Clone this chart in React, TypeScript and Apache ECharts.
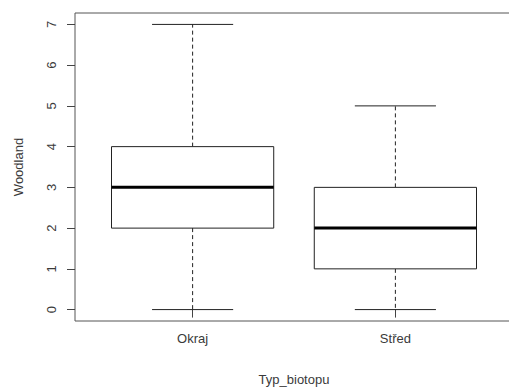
import React, { useEffect, useRef } from "react";
import * as echarts from "echarts";

const categories = ["Okraj", "Střed"];
// [min, Q1, median, Q3, max]
const okraj = [0, 2, 3, 4, 7];
const stred = [0, 1, 2, 3, 5];
const yTicks = [0, 1, 2, 3, 4, 5, 6, 7];

const boxStats = [okraj, stred];

export default function App() {
  const ref = useRef<HTMLDivElement>(null);
  useEffect(() => {
    if (!ref.current) return;
    const chart = echarts.init(ref.current, undefined, { renderer: "svg" });
    const lineColor = "#444";
    const textStyle = { color: "#3a3a3a", fontFamily: "Liberation Sans, Arial, sans-serif", fontSize: 13 };
    const data = boxStats.map((s, i) => [i + 1, ...s]);
    chart.setOption({
      animation: false,
      grid: {
        left: 75, right: -4, top: 13, bottom: 67,
        show: true, borderColor: "#555", borderWidth: 1,
        containLabel: false, outerBoundsMode: "none",
      },
      xAxis: {
        type: "value",
        min: 0.42,
        max: 2.58,
        splitLine: { show: false },
        axisLine: { show: false },
        axisTick: { show: true, length: 8, customValues: [1, 2], lineStyle: { color: lineColor } },
        axisLabel: {
          customValues: [1, 2],
          margin: 11,
          formatter: (v: number) => categories[Math.round(v) - 1] ?? "",
          ...textStyle,
        },
        name: "Typ_biotopu",
        nameLocation: "middle",
        nameGap: 52,
        nameTextStyle: { ...textStyle },
      },
      yAxis: {
        type: "value",
        min: -0.28,
        max: 7.28,
        splitLine: { show: false },
        axisLine: { show: false },
        axisTick: { show: true, length: 8, customValues: yTicks, lineStyle: { color: lineColor } },
        axisLabel: {
          customValues: yTicks,
          rotate: 90,
          margin: 17,
          ...textStyle,
        },
        name: "Woodland",
        nameLocation: "middle",
        nameGap: 50,
        nameRotate: 90,
        nameTextStyle: { ...textStyle },
      },
      series: [
        {
          type: "custom",
          data,
          renderItem: (params: any, api: any) => {
            const x = api.value(0);
            const mn = api.value(1), q1 = api.value(2), md = api.value(3), q3 = api.value(4), mx = api.value(5);
            const halfBox = 0.4, halfCap = 0.2;
            const pL = api.coord([x - halfBox, q1]);
            const pR = api.coord([x + halfBox, q3]);
            const pc = (v: number) => api.coord([x, v]);
            const capL = (v: number) => api.coord([x - halfCap, v]);
            const capR = (v: number) => api.coord([x + halfCap, v]);
            const medL = api.coord([x - halfBox, md]);
            const medR = api.coord([x + halfBox, md]);
            const stroke = "#222";
            return {
              type: "group",
              children: [
                { type: "line", shape: { x1: pc(q3)[0], y1: pc(q3)[1], x2: pc(mx)[0], y2: pc(mx)[1] }, style: { stroke, lineWidth: 1, lineDash: [4, 3] } },
                { type: "line", shape: { x1: pc(q1)[0], y1: pc(q1)[1], x2: pc(mn)[0], y2: pc(mn)[1] }, style: { stroke, lineWidth: 1, lineDash: [4, 3] } },
                { type: "line", shape: { x1: capL(mx)[0], y1: capL(mx)[1], x2: capR(mx)[0], y2: capR(mx)[1] }, style: { stroke, lineWidth: 1 } },
                { type: "line", shape: { x1: capL(mn)[0], y1: capL(mn)[1], x2: capR(mn)[0], y2: capR(mn)[1] }, style: { stroke, lineWidth: 1 } },
                { type: "rect", shape: { x: pL[0], y: pR[1], width: pR[0] - pL[0], height: pL[1] - pR[1] }, style: { fill: "#fff", stroke, lineWidth: 1 } },
                { type: "line", shape: { x1: medL[0], y1: medL[1], x2: medR[0], y2: medR[1] }, style: { stroke: "#000", lineWidth: 3 } },
              ],
            };
          },
        },
      ],
    });
    return () => chart.dispose();
  }, []);
  return <div ref={ref} style={{ position: "absolute", left: 0, top: 0, width: 509, height: 388 }} />;
}
